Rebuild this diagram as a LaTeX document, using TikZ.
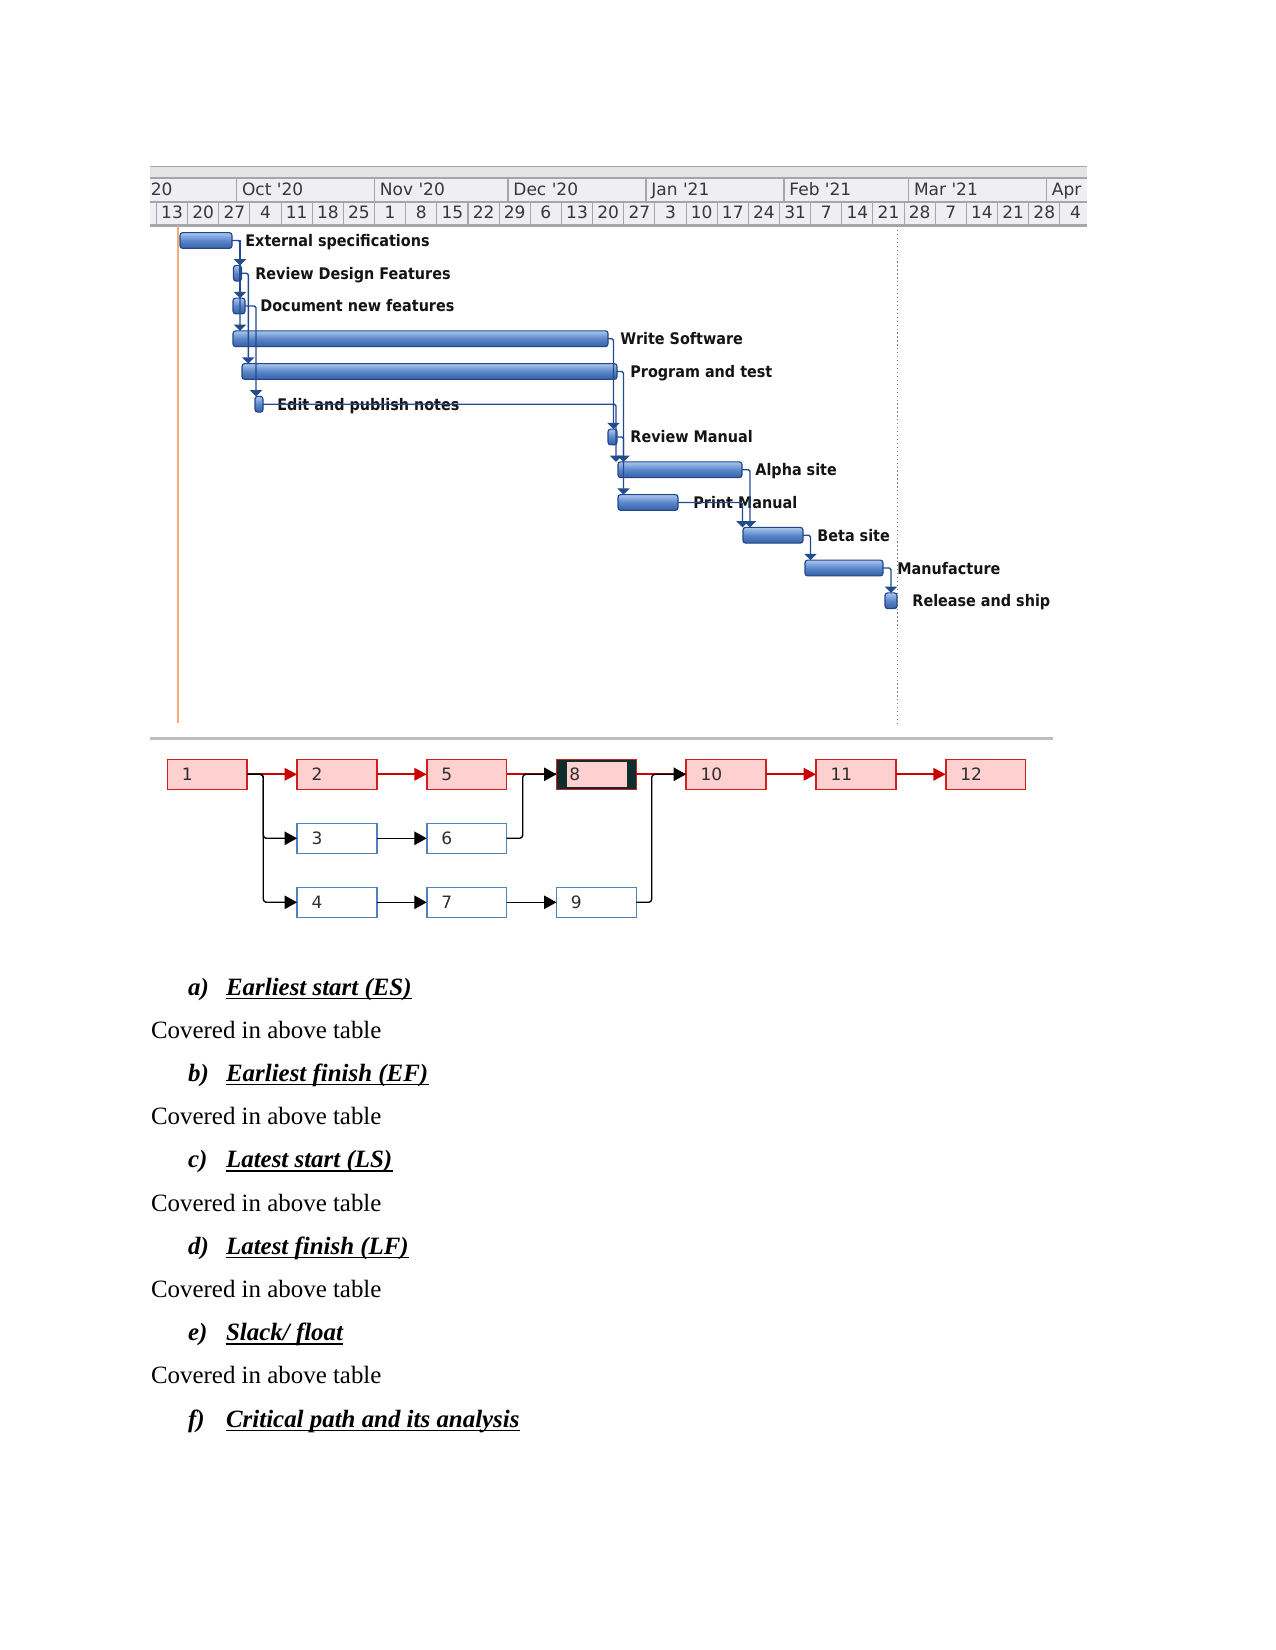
\documentclass[tikz,border=0pt]{standalone}
\usepackage{fontspec}
\setmainfont{Liberation Serif}
\newfontfamily\gfont{DejaVu Sans}
\newfontfamily\gbfont[FakeStretch=0.9]{DejaVu Sans}
\usetikzlibrary{arrows.meta,calc}
\definecolor{gline}{RGB}{35,75,145}
\definecolor{gbord}{RGB}{35,70,135}
\definecolor{barA}{RGB}{170,198,238}
\definecolor{barB}{RGB}{90,135,202}
\definecolor{barC}{RGB}{55,95,165}
\definecolor{hdrbg}{RGB}{239,239,243}
\definecolor{hdrtop}{RGB}{228,228,230}
\definecolor{hdrln}{RGB}{165,165,170}
\definecolor{hdrtx}{RGB}{55,55,55}
\definecolor{orangec}{RGB}{245,170,120}
\definecolor{grayrule}{RGB}{190,190,190}
\definecolor{pinkc}{RGB}{255,208,208}
\definecolor{redb}{RGB}{210,30,30}
\definecolor{critred}{RGB}{200,0,0}
\definecolor{blueb}{RGB}{79,129,189}
\definecolor{darkc}{RGB}{15,45,45}
\definecolor{ntx}{RGB}{45,45,45}
\tikzset{
  gbarst/.style={draw=gbord, line width=0.55pt, rounded corners=1.3pt,
    top color=barA, bottom color=barC, middle color=barB,
    minimum height=7.6pt, inner sep=0pt, outer sep=0pt},
  glabel/.style={font=\gbfont\bfseries\fontsize{7.7}{9}\selectfont, text=black!92, inner sep=0pt, anchor=base west},
  gconn/.style={draw=gline, line width=0.7pt, rounded corners=0.8pt, -{Triangle[width=5.8pt,length=3pt]}},
  hdrtxt/.style={font=\gfont\fontsize{8.2}{9}\selectfont, text=hdrtx, inner sep=0pt},
  hdrline/.style={draw=hdrln, line width=0.5pt},
  nbox/.style={minimum width=38.5pt, minimum height=14.45pt, inner sep=0pt, outer sep=0pt, line width=0.75pt},
  critbox/.style={nbox, draw=redb, fill=pinkc},
  normbox/.style={nbox, draw=blueb, fill=white},
  nlabel/.style={font=\gfont\fontsize{8.2}{9}\selectfont, text=ntx, inner sep=0pt, anchor=west},
  cconn/.style={draw=critred, line width=1pt, -{Triangle[width=6pt,length=6pt]}},
  cplain/.style={draw=critred, line width=1pt},
  nconn/.style={draw=black, line width=0.65pt, rounded corners=1.5pt, -{Triangle[width=6.5pt,length=6pt]}},
  tx/.style={inner sep=0pt, anchor=base west, font=\fontsize{12}{14}\selectfont},
}
\newcommand\gbar[4]{\node[gbarst, minimum width={(#3-#2)*0.4818pt}, anchor=west] (#1) at (#2,#4) {};}
\newcommand\qitem[4]{%
  \node[tx] (#1l) at (187.7,#2) {\bfseries\itshape #3};
  \node[tx] (#1h) at (225.7,#2) {\bfseries\itshape #4};
  \draw[line width=0.7pt] ([yshift=-1.6pt]#1h.base west) -- ([yshift=-1.6pt]#1h.base east);}
\begin{document}
\begin{tikzpicture}[x=0.4818pt, y=-0.4818pt]
\useasboundingbox (0,0) rectangle (1275,1650);
\fill[white] (0,0) rectangle (1275,1650);

% ---------- timescale header ----------
\fill[hdrbg] (150,166) rectangle (1087,226);
\fill[hdrtop] (150,166) rectangle (1087,178);
\draw[hdrline] (150,166.5) -- (1087,166.5);
\draw[hdrline] (150,178) -- (1087,178);
\draw[hdrline] (150,202) -- (1087,202);
\draw[draw=hdrln, line width=1pt] (150,225.5) -- (1087,225.5);
\foreach \mx in {236.6,374.5,508,646,784,908.6,1046.5}
  \draw[hdrline] (\mx,178) -- (\mx,202);
\foreach \k in {0,...,29}
  \draw[hdrline] ({156.5+31.15*\k},202) -- ({156.5+31.15*\k},225);
\foreach \m/\mx [count=\i] in {20/150.5,Oct '20/241.6,Nov '20/379.5,Dec '20/513,Jan '21/651,Feb '21/789,Mar '21/913.6,Apr/1051.5}
  \node[hdrtxt, anchor=base west] (mo\i) at (\mx,195.5) {\m};
\foreach \d [count=\k from 0] in {13,20,27,4,11,18,25,1,8,15,22,29,6,13,20,27,3,10,17,24,31,7,14,21,28,7,14,21,28,4}
  \node[hdrtxt, anchor=base] (day\k) at ({156.5+31.15*(\k+0.5)},218.5) {\d};

% ---------- chart lines ----------
\draw[orangec, line width=1pt] (178.3,226) -- (178.3,723);
\draw[gray, line width=0.6pt, dash pattern=on 0.6pt off 1.3pt] (897.3,226) -- (897.3,724);
\draw[grayrule, line width=1.4pt] (150,738.7) -- (1053,738.7);

% ---------- bars ----------
\gbar{b1}{180}{232}{240.5}
\gbar{b2}{233.5}{241.5}{273.25}
\gbar{b3}{233}{245}{306}
\gbar{b4}{233}{608}{338.75}
\gbar{b5}{242}{617}{371.5}
\gbar{b6}{255}{263}{404.25}
\gbar{b7}{608}{617}{437}
\gbar{b8}{618}{742}{469.75}
\gbar{b9}{618}{678}{502.5}
\gbar{b10}{743}{803}{535.25}
\gbar{b11}{805}{883}{568}
\gbar{b12}{885}{897}{600.75}

% ---------- bar labels ----------
\node[glabel] (l1) at (245,246.5) {External specifications};
\node[glabel] (l2) at (255,279.25) {Review Design Features};
\node[glabel] (l3) at (260,312) {Document new features};
\node[glabel] (l4) at (620,344.75) {Write Software};
\node[glabel] (l5) at (630,377.5) {Program and test};
\node[glabel] (l6) at (277,410.25) {Edit and publish notes};
\node[glabel] (l7) at (630,443) {Review Manual};
\node[glabel] (l8) at (755,475.75) {Alpha site};
\node[glabel] (l9) at (693,508.5) {Print Manual};
\node[glabel] (l10) at (817,541.25) {Beta site};
\node[glabel] (l11) at (897,574) {Manufacture};
\node[glabel] (l12) at (912,606.75) {Release and ship};

% ---------- gantt links ----------
\coordinate (t1) at (240,240.5);
\coordinate (t2) at (248.3,273.25);
\coordinate (t3) at (256,306);
\coordinate (t4) at (613.5,338.75);
\coordinate (t5) at (623.5,371.5);
\coordinate (t6) at (616,404.25);
\coordinate (t7) at (623.5,437);
\coordinate (t8) at (750,469.75);
\coordinate (t9) at (742.5,502.5);
\coordinate (t10) at (810.5,535.25);
\coordinate (t11) at (891,568);
\draw[gconn] (b1.east) -- (t1) -- (t1 |- b4.north);
\draw[gconn] (t1) -- (t1 |- b2.north);
\draw[gconn] (t1) -- (t1 |- b3.north);
\draw[gconn] (b2.east) -- (t2) -- (t2 |- b5.north);
\draw[gconn] (b3.east) -- (t3) -- (t3 |- b6.north);
\draw[gconn] (b4.east) -- (t4) -- (t4 |- b7.north);
\draw[gconn] (b5.east) -- (t5) -- (t5 |- b8.north);
\draw[gconn] (b6.east) -- (t6) -- (t6 |- b8.north);
\draw[gconn] (b7.east) -- (t7) -- (t7 |- b9.north);
\draw[gconn] (b8.east) -- (t8) -- (t8 |- b10.north);
\draw[gconn] (b9.east) -- (t9) -- (t9 |- b10.north);
\draw[gconn] (b10.east) -- (t10) -- (t10 |- b11.north);
\draw[gconn] (b11.east) -- (t11) -- (t11 |- b12.north);

% ---------- network diagram ----------
\node[critbox] (n1) at (207.3,774.3) {};
\node[critbox] (n2) at (337,774.3) {};
\node[critbox] (n5) at (466.7,774.3) {};
\node[critbox, fill=darkc] (n8) at (596.4,774.3) {};
\fill[pinkc] ([xshift=5pt,yshift=-1.3pt]n8.north west) rectangle ([xshift=-4.6pt,yshift=1.3pt]n8.south east);
\node[critbox] (n10) at (726,774.3) {};
\node[critbox] (n11) at (856,774.3) {};
\node[critbox] (n12) at (985.7,774.3) {};
\node[normbox] (n3) at (337,838.3) {};
\node[normbox] (n6) at (466.7,838.3) {};
\node[normbox] (n4) at (337,902.3) {};
\node[normbox] (n7) at (466.7,902.3) {};
\node[normbox] (n9) at (596.4,902.3) {};
\foreach \n in {1,2,3,4,5,6,7,9,10,11,12}
  \node[nlabel] (n\n t) at ([xshift=6.8pt]n\n.west) {\n};
\node[nlabel] (n8t) at ([xshift=6pt]n8.west) {8};

\coordinate (j1) at (263.3,774.3);
\coordinate (j6) at (522.7,838.3);
\coordinate (j9) at (651.7,902.3);
\draw[cconn] (n1.east) -- (n2.west);
\draw[cconn] (n2.east) -- (n5.west);
\draw[cplain] (n5.east) -- (n8.west);
\draw[cplain] (n8.east) -- (n10.west);
\draw[cconn] (n10.east) -- (n11.west);
\draw[cconn] (n11.east) -- (n12.west);
\draw[nconn] (n1.east) -- (j1) |- (n3.west);
\draw[nconn] (n1.east) -- (j1) |- (n4.west);
\draw[nconn] (n3.east) -- (n6.west);
\draw[nconn] (n4.east) -- (n7.west);
\draw[nconn] (n7.east) -- (n9.west);
\draw[nconn] (n6.east) -- (j6) |- (n8.west);
\draw[nconn] (n9.east) -- (j9) |- (n10.west);

% ---------- text ----------
\qitem{qa}{995}{a)}{Earliest start (ES)}
\node[tx] (cv1) at (150.7,1038.2) {Covered in above table};
\qitem{qb}{1081.4}{b)}{Earliest finish (EF)}
\node[tx] (cv2) at (150.7,1124.6) {Covered in above table};
\qitem{qc}{1167.8}{c)}{Latest start (LS)}
\node[tx] (cv3) at (150.7,1211) {Covered in above table};
\qitem{qd}{1254.2}{d)}{Latest finish (LF)}
\node[tx] (cv4) at (150.7,1297.4) {Covered in above table};
\qitem{qe}{1340.6}{e)}{Slack/ float}
\node[tx] (cv5) at (150.7,1383.8) {Covered in above table};
\qitem{qf}{1427}{f)}{Critical path and its analysis}
\end{tikzpicture}
\end{document}
